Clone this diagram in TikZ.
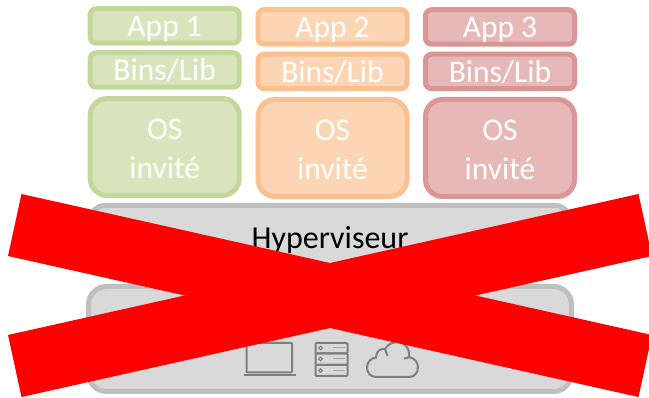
\documentclass[tikz,border=0pt]{standalone}
\usepackage{fontspec}
\setmainfont{Carlito}
\definecolor{greenfill}{HTML}{D8E4BC}
\definecolor{greenline}{HTML}{C4D79B}
\definecolor{orangefill}{HTML}{FCD5B5}
\definecolor{orangeline}{HTML}{FAC090}
\definecolor{redfill}{HTML}{E6B9B8}
\definecolor{redline}{HTML}{D99694}
\definecolor{greyfill}{HTML}{D9D9D9}
\definecolor{greyline}{HTML}{BFBFBF}
\definecolor{iconline}{HTML}{7F7F7F}
\tikzset{
	layer/.style={draw, line width=5pt, inner sep=0pt, align=center, font=\fontsize{31.5}{39}\selectfont},
	smallbox/.style={layer, rounded corners=6pt, minimum width=149pt, minimum height=34.5pt, text=white, text height=27.5pt, text depth=6pt},
	osbox/.style={layer, rounded corners=17pt, minimum width=149pt, minimum height=97pt, text=white, text height=64pt},
	icon/.style={draw=iconline, line width=2pt, rounded corners=1pt}
}
\begin{document}
\begin{tikzpicture}[x=1pt,y=-1pt]
	\clip (0,0) rectangle (649,398);
	\node[smallbox, draw=greenline, fill=greenfill] (appa) at (164.7,26) {App 1};
	\node[smallbox, draw=greenline, fill=greenfill] (binsa) at (164.7,70) {Bins/Lib};
	\node[osbox, draw=greenline, fill=greenfill] (osa) at (164.7,147) {OS\\invité};
	\node[smallbox, draw=orangeline, fill=orangefill] (appb) at (332.5,27) {App 2};
	\node[smallbox, draw=orangeline, fill=orangefill] (binsb) at (332.5,71.5) {Bins/Lib};
	\node[osbox, draw=orangeline, fill=orangefill] (osb) at (332.5,148) {OS\\invité};
	\node[smallbox, draw=redline, fill=redfill] (appc) at (500,27) {App 3};
	\node[smallbox, draw=redline, fill=redfill] (binsc) at (500,71.5) {Bins/Lib};
	\node[osbox, draw=redline, fill=redfill] (osc) at (500,148) {OS\\invité};
	\node[layer, rounded corners=14pt, draw=greyline, fill=greyfill, minimum width=479pt, minimum height=69pt] (hyper) at (330,240) {};
	\node[layer, rounded corners=18pt, draw=greyline, fill=greyfill, minimum width=483pt, minimum height=105pt] (host) at (330,339) {};
	\node[font=\fontsize{32}{38}\selectfont] (hypertext) at (330,240.5) {Hyperviseur};
	\node[font=\fontsize{32}{38}\selectfont] (hosttext) at (330,316) {Matériel};
	% laptop
	\draw[icon] (246.5,372.5) -- (246.5,343) -- (292,343) -- (292,372.5) -- cycle;
	\draw[icon] (243.5,375.5) -- (296,375.5);
	% server
	\draw[icon] (315.5,343) rectangle (347.5,353.5);
	\draw[icon] (315.5,353.5) rectangle (347.5,365);
	\draw[icon] (315.5,365) rectangle (347.5,376);
	\draw[iconline, line width=1pt] (320.5,348) circle (1.8) (320.5,359) circle (1.8) (320.5,370.5) circle (1.8);
	\draw[iconline!70, line width=1pt] (333,348) -- (345,348) (333,359) -- (345,359) (333,370.5) -- (345,370.5);
	% cloud
	\draw[iconline, line width=2pt] (376,377) .. controls (370,377) and (367,372) .. (367,367.5) .. controls (367,362) and (371,358) .. (376,357.5) .. controls (376,351) and (381,348) .. (385,349) .. controls (388,344) and (393,342) .. (397,342) .. controls (405,342) and (410,349) .. (409,357) .. controls (415,358) and (418,363) .. (418,367.5) .. controls (418,373) and (414,377) .. (409,377) -- cycle;
	\draw[iconline, line width=2pt] (385,349) .. controls (386,352) and (387,353) .. (387.5,356);
	\draw[iconline, line width=2pt] (409,357) .. controls (408,358) and (406,358.5) .. (404,358.5);
	% cross
	\fill[red] (21.5,194) -- (652,335) -- (638.5,397) -- (8,256) -- cycle;
	\fill[red] (8,335) -- (638.5,194) -- (652,256) -- (21.5,397) -- cycle;
\end{tikzpicture}
\end{document}
